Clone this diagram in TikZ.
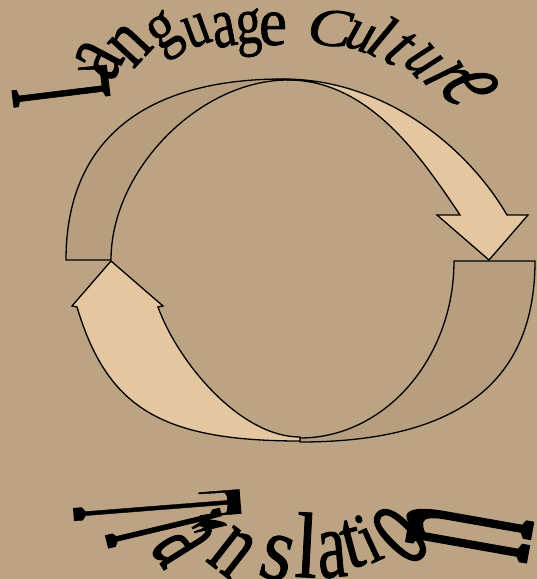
\documentclass[tikz,border=0pt]{standalone}
\usepackage{fontspec}
\setmainfont{Liberation Serif}
\newfontfamily\wafont{Liberation Serif}[FakeBold=1]
\definecolor{bgtan}{RGB}{188,163,131}
\definecolor{backtan}{RGB}{183,158,127}
\definecolor{fronttan}{RGB}{228,199,160}
\tikzset{
  lt/.style={inner sep=0pt, outer sep=0pt, font=\wafont\fontsize{30}{30}\selectfont},
  lti/.style={lt, font=\wafont\fontsize{30}{30}\selectfont\itshape},
  backpart/.style={fill=backtan, draw=black, line width=1.3pt, line join=miter},
  frontpart/.style={fill=fronttan, draw=black, line width=1.3pt, line join=miter}
}
\begin{document}
\begin{tikzpicture}[x=1pt,y=-1pt]
\useasboundingbox (0,0) rectangle (537,579);
\fill[bgtan] (0,0) rectangle (537,579);
% top curved arrow: back part
\path[backpart] (66,260) .. controls (66,142.4) and (141.9,79) .. (283,79)
  -- (288,80) .. controls (199.5,80) and (111,170) .. (111,260) -- cycle;
% top curved arrow: front part
\path[frontpart] (283,79) .. controls (383,79) and (466,145) .. (507,215)
  -- (528,215) -- (489,260) -- (437,215) -- (460,215)
  .. controls (420,155) and (368,80) .. (288,80) -- cycle;
% bottom curved arrow: back part
\path[backpart] (454,261) -- (535,261) .. controls (535,382.3) and (457.5,442) .. (300,442)
  -- (300,438) .. controls (384.7,438) and (454,358.4) .. (454,261) -- cycle;
% bottom curved arrow: front part
\path[frontpart] (300,441) .. controls (160,441) and (107,407) .. (77,307)
  -- (72,306) -- (111,261) -- (163,306) -- (158,307)
  .. controls (177.8,362) and (240,437) .. (300,437) -- cycle;
% top text
\node[lt, rotate=97, xscale=2.0, yscale=4.9] (l1) at (60,85) {L};
\node[lt, rotate=62, xscale=2.2, yscale=3.2] (l2) at (99,60) {a};
\node[lt, rotate=47, xscale=2.1, yscale=2.7] (l3) at (130,45) {n};
\node[lt, rotate=33, xscale=1.9, yscale=2.2] (l4) at (166,36) {g};
\node[lt, rotate=20, xscale=1.7, yscale=2.2] (l5) at (197,31) {u};
\node[lt, rotate=11, xscale=1.8, yscale=2.4] (l6) at (224,30) {a};
\node[lt, rotate=4, xscale=1.7, yscale=2.2] (l7) at (249,33) {g};
\node[lt, rotate=0, xscale=2.1, yscale=2.3] (l8) at (273,29) {e};
\node[lti, rotate=-7, xscale=2.2, yscale=1.8] (l9) at (330,28) {C};
\node[lti, rotate=-20, xscale=1.8, yscale=2.0] (l10) at (360,37) {u};
\node[lti, rotate=-30, xscale=2.0, yscale=2.1] (l11) at (382,36) {l};
\node[lti, rotate=-40, xscale=1.9, yscale=2.3] (l12) at (400,48) {t};
\node[lti, rotate=-50, xscale=1.7, yscale=2.4] (l13) at (423,61) {u};
\node[lti, rotate=-58, xscale=1.8, yscale=3.0] (l14) at (446,77) {r};
\node[lti, rotate=-66, xscale=2.2, yscale=3.8] (l15) at (470,87) {e};
% bottom text
\node[lt, rotate=-85.5, xscale=1.4, yscale=8.4] (b1) at (157,508) {T};
\node[lt, rotate=-76.5, xscale=2.0, yscale=8.4] (b2) at (166,530) {r};
\node[lt, rotate=-58, xscale=2.1, yscale=4.4] (b3) at (183,543) {a};
\node[lt, rotate=-38, xscale=2.2, yscale=3.3] (b4) at (232,552) {n};
\node[lt, rotate=-15, xscale=2.7, yscale=3.1] (b5) at (277,558) {s};
\node[lt, rotate=-3, xscale=2.7, yscale=3.1] (b6) at (307,545) {l};
\node[lt, rotate=5, xscale=2.2, yscale=3.2] (b7) at (332,555) {a};
\node[lt, rotate=15, xscale=2.4, yscale=2.8] (b8) at (352,544) {t};
\node[lt, rotate=25, xscale=2.0, yscale=2.5] (b9) at (368,538) {i};
\node[lt, rotate=45, xscale=2.3, yscale=4.4] (b10) at (400,535) {o};
\node[lt, rotate=80, xscale=3.0, yscale=8.8] (b11) at (468,532) {n};
\end{tikzpicture}
\end{document}
